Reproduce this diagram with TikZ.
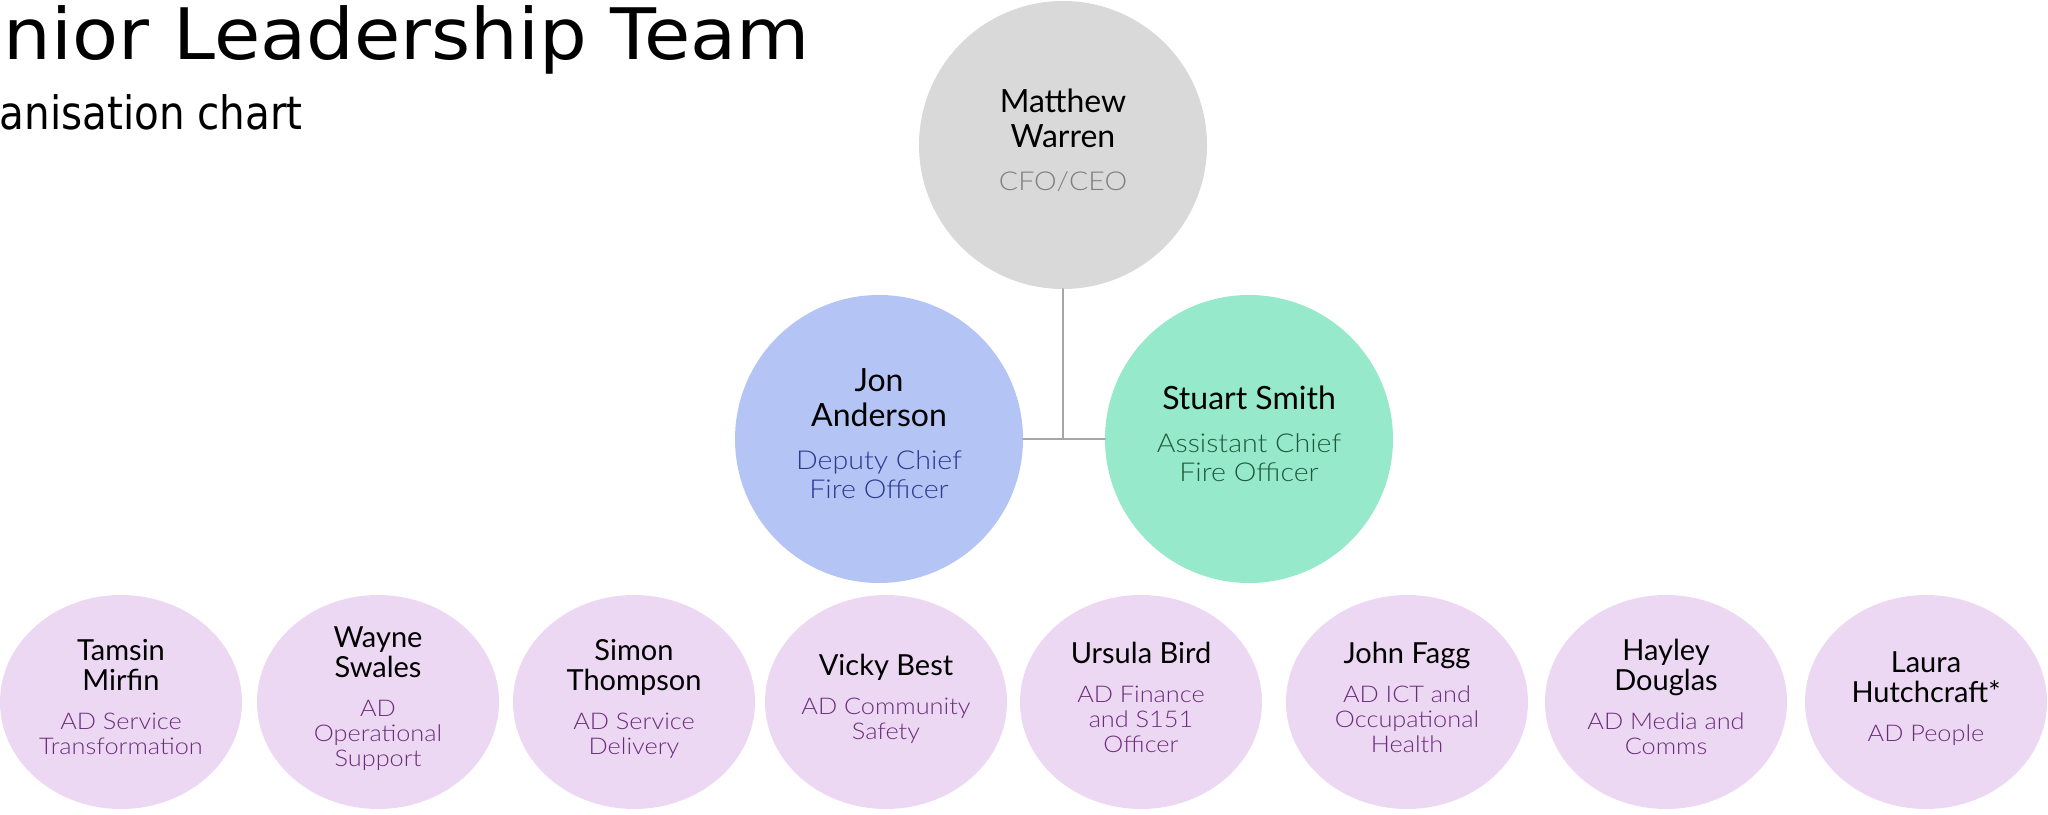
\documentclass[tikz,border=0pt]{standalone}
\usepackage{fontspec}
\usepackage[usenames]{xcolor}
\usepackage{tikz}
\usetikzlibrary{shapes.geometric}
\setmainfont{Lato}
\newfontfamily\titlefont[FakeStretch=1.06]{DejaVu Sans}
\newfontfamily\subtitlefont[FakeStretch=0.88]{DejaVu Sans}
\newfontfamily\rolefont[FakeStretch=1.1]{Lato Light}
\definecolor{ceofill}{HTML}{D9D9D9}
\definecolor{ceotext}{HTML}{7F7F7F}
\definecolor{dcfofill}{HTML}{B4C4F4}
\definecolor{dcfotext}{HTML}{2B3990}
\definecolor{acfofill}{HTML}{96EACB}
\definecolor{acfotext}{HTML}{1E5B3C}
\definecolor{adfill}{HTML}{EDD8F3}
\definecolor{adtext}{HTML}{6B2D7B}
\definecolor{linkgray}{HTML}{A6A6A6}
\newcommand{\nm}[1]{{\color{black}#1}}
\newcommand{\rl}[1]{{\rolefont\fontsize{26}{29}\selectfont #1}}
\newcommand{\rls}[1]{{\rolefont\fontsize{23}{25}\selectfont #1}}

\begin{document}
\begin{tikzpicture}[line cap=round,line join=round,x=1pt,y=1pt,
  big/.style={circle,minimum size=288pt,inner sep=0pt,align=center,text depth=11pt,font=\fontsize{32}{35}\selectfont},
  ceo/.style={big,fill=ceofill,text=ceotext},
  deputy/.style={big,fill=dcfofill,text=dcfotext},
  assistant/.style={big,fill=acfofill,text=acfotext},
  ad/.style={ellipse,minimum width=242pt,minimum height=214pt,inner sep=0pt,align=center,text depth=10pt,
    fill=adfill,text=adtext,font=\fontsize{29}{30}\selectfont},
  heading/.style={anchor=base east,inner sep=0pt},
  link/.style={draw=linkgray,line width=2pt}]
\useasboundingbox (0,0) rectangle (2048,814);
\clip (0,0) rectangle (2048,814);
\node[heading,font=\titlefont\fontsize{71}{80}\selectfont] (title) at (810,754) {Senior Leadership Team};
\node[heading,font=\subtitlefont\fontsize{46}{56}\selectfont] (subtitle) at (303,684) {Organisation chart};
\node[ceo] (warren) at (1063,669) {\nm{Matthew}\\\nm{Warren}\\[8pt]\rl{CFO/CEO}};
\node[deputy] (anderson) at (879,375) {\nm{Jon}\\\nm{Anderson}\\[8pt]\rl{Deputy Chief}\\[-6pt]\rl{Fire Officer}};
\node[assistant] (smith) at (1249,375) {\nm{Stuart Smith}\\[8pt]\rl{Assistant Chief}\\[-6pt]\rl{Fire Officer}};
\node[ad] (mirfin) at (121,112) {\nm{Tamsin}\\\nm{Mirfin}\\[9pt]\rls{AD Service}\\[-5pt]\rls{Transformation}};
\node[ad] (swales) at (378,112) {\nm{Wayne}\\\nm{Swales}\\[9pt]\rls{AD}\\[-5pt]\rls{Operational}\\[-5pt]\rls{Support}};
\node[ad] (thompson) at (634,112) {\nm{Simon}\\\nm{Thompson}\\[9pt]\rls{AD Service}\\[-5pt]\rls{Delivery}};
\node[ad] (best) at (886,112) {\nm{Vicky Best}\\[9pt]\rls{AD Community}\\[-5pt]\rls{Safety}};
\node[ad] (bird) at (1141,112) {\nm{Ursula Bird}\\[9pt]\rls{AD Finance}\\[-5pt]\rls{and S151}\\[-5pt]\rls{Officer}};
\node[ad] (fagg) at (1407,112) {\nm{John Fagg}\\[9pt]\rls{AD ICT and}\\[-5pt]\rls{Occupational}\\[-5pt]\rls{Health}};
\node[ad] (douglas) at (1666,112) {\nm{Hayley}\\\nm{Douglas}\\[9pt]\rls{AD Media and}\\[-5pt]\rls{Comms}};
\node[ad] (hutchcraft) at (1926,112) {\nm{Laura}\\\nm{Hutchcraft*}\\[9pt]\rls{AD People}};
\draw[link] (warren) -- (warren |- anderson);
\draw[link] (anderson) -- (smith);
\end{tikzpicture}
\end{document}
